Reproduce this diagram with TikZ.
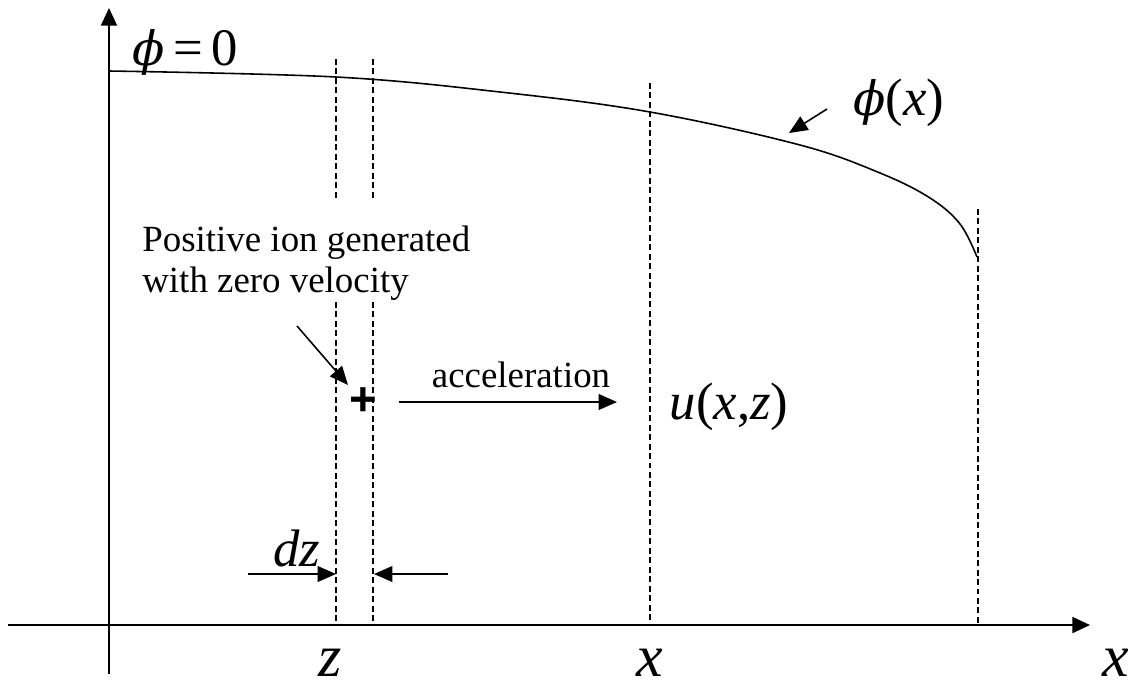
\documentclass[tikz,border=0pt]{standalone}
\usepackage{fontspec}
\setmainfont{Liberation Serif}
\newfontfamily\plusfont{Liberation Sans}
\newfontfamily\greekfont{DejaVu Serif}
\newcommand{\phiglyph}{{\fontsize{27}{30}\selectfont\greekfont\itshape ϕ}}
\usetikzlibrary{arrows.meta}

\tikzset{
  axis/.style={line width=1.3pt, -{Triangle[length=10pt,width=9pt]}},
  guide/.style={line width=0.6pt, dash pattern=on 3.4pt off 2pt},
  pointer/.style={line width=0.9pt, -{Triangle[length=10.5pt,width=9pt]}},
  potential/.style={line width=0.9pt},
  txt/.style={font=\fontsize{21}{25}\selectfont, inner sep=0pt},
  sym/.style={font=\fontsize{30}{34}\selectfont, inner sep=0pt},
  bigsym/.style={font=\fontsize{34}{38}\selectfont\itshape, inner sep=0pt, anchor=base}
}

\begin{document}
\begin{tikzpicture}[x=0.02cm, y=-0.02cm, line join=round]
  \useasboundingbox (0,0) rectangle (1128,690);

  % axes
  \coordinate (origin) at (109,625);
  \draw[axis] (109,674) -- (109,8);
  \draw[axis] (8,625) -- (1090,625);

  % potential profile
  \draw[potential] plot[smooth, tension=0.6] coordinates {(109,71) (336,77) (500,92) (650,112) (800,145) (880,173) (930,198) (960,224) (977,257)};

  % guide lines
  \draw[guide] (336,59) -- (336,200);
  \draw[guide] (336,302) -- (336,625);
  \draw[guide] (373,59) -- (373,200);
  \draw[guide] (373,302) -- (373,625);
  \draw[guide] (650,83) -- (650,625);
  \draw[guide] (978,209) -- (978,625);

  % labels
  \node[sym, anchor=base] (phizero) at (185,65) {\phiglyph\,=\,0};
  \node[sym] (phix) at (899,103) {\phiglyph(\textit{x})};
  \coordinate (phitip) at (789,133);
  \draw[pointer] (827,109) -- (phitip);

  \node[txt, align=left, anchor=north west] (note) at (142,226) {Positive ion generated\\[-2pt]with zero velocity};
  \node[font=\fontsize{27}{27}\selectfont\plusfont\bfseries, inner sep=0pt] (ion) at (363,402) {+};
  \coordinate (notetip) at (348,385);
  \draw[pointer] (297,326) -- (notetip);

  \coordinate (accstart) at (399,402);
  \coordinate (accend) at (617,402);
  \draw[pointer] (accstart) -- (accend);
  \node[txt, above=8pt] (acc) at (521,402) {acceleration};

  \node[sym] (uxz) at (729,407) {\textit{u}(\textit{x},\textit{z})};

  \node[sym, anchor=base, font=\fontsize{30}{34}\selectfont\itshape] (dz) at (297,566) {dz};
  \coordinate (dzleft) at (336,574);
  \coordinate (dzright) at (374,574);
  \draw[pointer] (248,574) -- (dzleft);
  \draw[pointer] (448,574) -- (dzright);

  \node[bigsym] (zlbl) at (330,676) {z};
  \node[bigsym] (xlbl) at (650,676) {x};
  \node[bigsym] (xaxis) at (1116,676) {x};
\end{tikzpicture}
\end{document}
